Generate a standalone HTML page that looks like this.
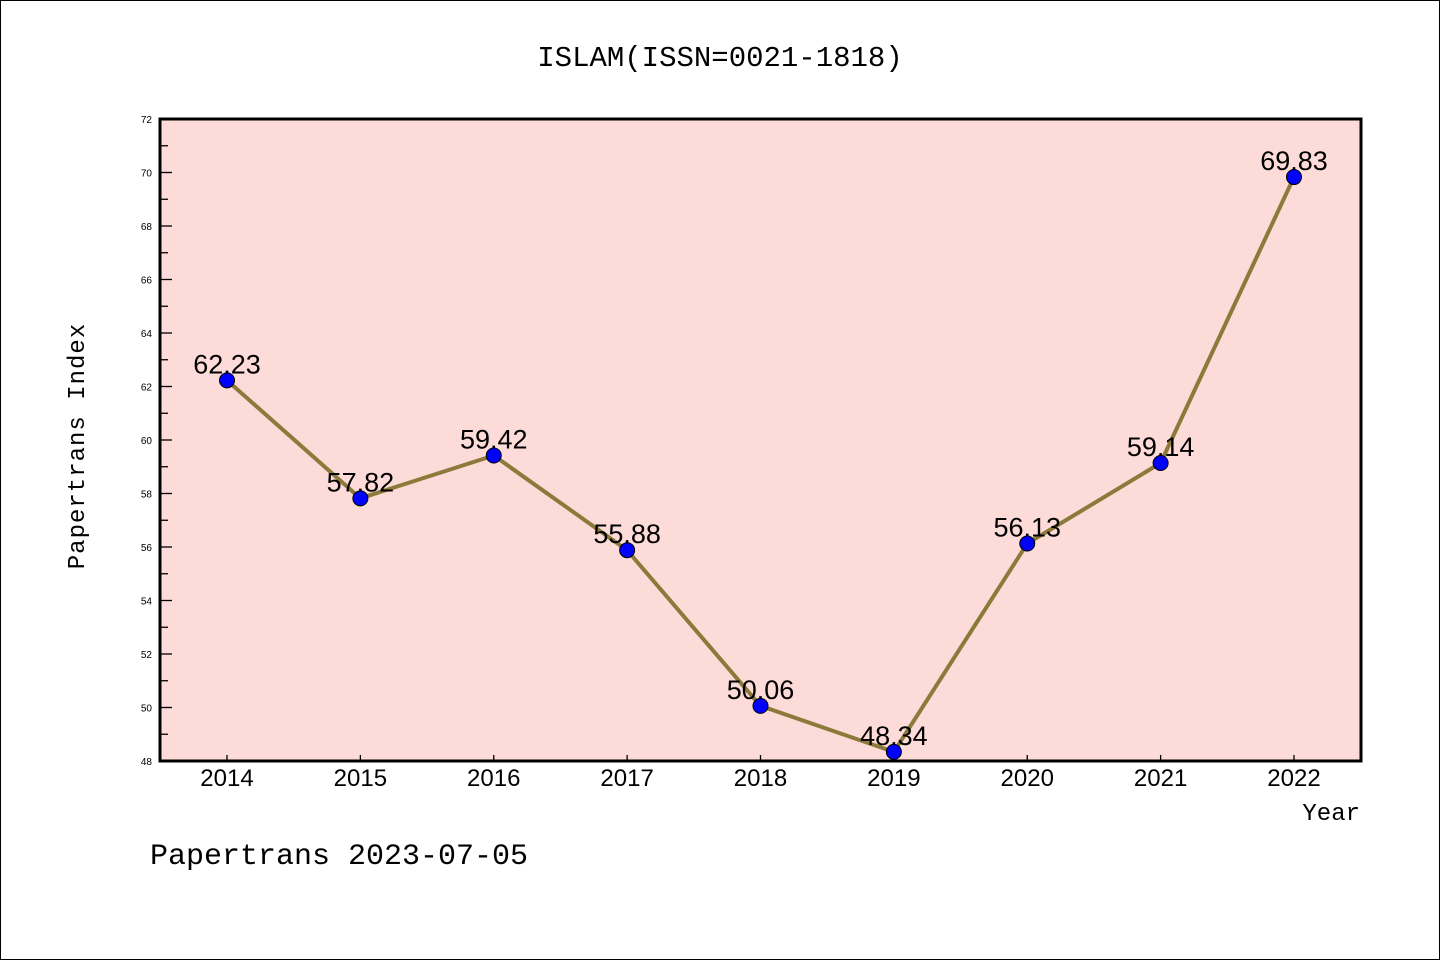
<!DOCTYPE html>
<html><head><meta charset="utf-8"><style>
html,body{margin:0;padding:0;background:#fff;}
svg{display:block;font-family:"Liberation Sans","WenQuanYi Zen Hei",sans-serif;}
</style></head><body>
<svg id="chart" width="1440" height="960" viewBox="0 0 1440 960" xmlns="http://www.w3.org/2000/svg">
<rect x="0.5" y="0.5" width="1439" height="959" fill="#fff" stroke="#000" stroke-width="1"/>
<text x="720" y="66" text-anchor="middle" font-size="29" font-family="'WenQuanYi Zen Hei','Liberation Mono',monospace">ISLAM(ISSN=0021-1818)</text>
<rect x="160" y="119" width="1201" height="642" fill="#fddbd8"/>
<g id="yticks"></g>
<g id="xticks"></g>
<g id="series"></g>
<rect x="160" y="119" width="1201" height="642" fill="none" stroke="#000" stroke-width="3"/>
<text transform="translate(84,446) rotate(-90)" text-anchor="middle" font-size="24" font-family="'WenQuanYi Zen Hei','Liberation Mono',monospace" letter-spacing="1">Papertrans Index</text>
<text x="1360" y="820" text-anchor="end" font-size="24" font-family="'WenQuanYi Zen Hei','Liberation Mono',monospace">Year</text>
<text x="150" y="864" font-size="30" font-family="'WenQuanYi Zen Hei','Liberation Mono',monospace">Papertrans 2023-07-05</text>
</svg>
<script>
const years = ["2014","2015","2016","2017","2018","2019","2020","2021","2022"];
const values = [62.23,57.82,59.42,55.88,50.06,48.34,56.13,59.14,69.83];
const valueLabels = ["62.23","57.82","59.42","55.88","50.06","48.34","56.13","59.14","69.83"];
const yTickLabels = ["48","50","52","54","56","58","60","62","64","66","68","70","72"];
const yMin = 48, yMax = 72;
const NS = "http://www.w3.org/2000/svg";
function xPos(i){ return 227 + i*(1294-227)/(years.length-1); }
function yPos(v){ return 761 - (v-yMin)*(642/(yMax-yMin)); }
function mk(tag, attrs, parent){ const e=document.createElementNS(NS,tag); for(const k in attrs) e.setAttribute(k,attrs[k]); parent.appendChild(e); return e; }
const yg=document.getElementById('yticks'), xg=document.getElementById('xticks'), sg=document.getElementById('series');
for(let v=yMin; v<=yMax; v++){
  const major = (v%2===0);
  const t=mk('line',{x1:160,x2:160+(major?12:8),y1:yPos(v),y2:yPos(v),stroke:'#000','stroke-width':1.3},yg);
  
  
}
yTickLabels.forEach(l=>{
  const t=mk('text',{x:152,y:yPos(+l)+4,'text-anchor':'end','font-size':10},yg);
  t.textContent=l;
  
  
});
years.forEach((yr,i)=>{
  const t=mk('line',{x1:xPos(i),x2:xPos(i),y1:761,y2:755,stroke:'#000','stroke-width':1.3},xg);
  
  
  const l=mk('text',{x:xPos(i),y:786,'text-anchor':'middle','font-size':24},xg);
  l.textContent=yr;
  
  
});
const pts=values.map((v,i)=>xPos(i)+','+yPos(v)).join(' ');
const pl=mk('polyline',{points:pts,fill:'none',stroke:'#8b7a3a','stroke-width':4,'stroke-linejoin':'round'},sg);


values.forEach((v,i)=>{
  const c=mk('circle',{cx:xPos(i),cy:yPos(v),r:7.5,fill:'#0000ff',stroke:'#000','stroke-width':1},sg);
  
  
});
values.forEach((v,i)=>{
  const t=mk('text',{x:xPos(i),y:yPos(v)-7,'text-anchor':'middle','font-size':27},sg);
  t.textContent=valueLabels[i];
  
  
});
</script>
</body></html>
